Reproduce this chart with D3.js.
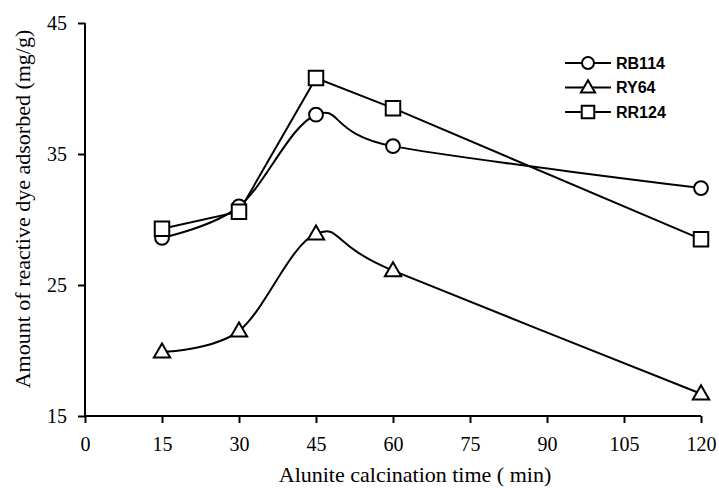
<!DOCTYPE html>
<html>
<head>
<meta charset="utf-8">
<script src="https://cdn.jsdelivr.net/npm/d3@7"></script>
<style>
  body { margin: 0; background: #fff; }
  .axis text { font-family: "Liberation Serif", "Times New Roman", serif; font-size: 20px; fill: #000; }
  .axis path, .axis line { stroke: #000; stroke-width: 2; }
</style>
</head>
<body>
<div id="chart"></div>
<script>
// Data
const times = [15, 30, 45, 60, 120];
const rb114 = [28.6, 31.0, 38.0, 35.6, 32.4];
const ry64 = [19.9, 21.5, 28.9, 26.1, 16.7];
const rr124 = [29.3, 30.6, 40.8, 38.5, 28.5];
const xTicks = [0, 15, 30, 45, 60, 75, 90, 105, 120];
const yTicks = [15, 25, 35, 45];

const series = [
    { name: 'RB114', values: rb114, symbol: d3.symbolCircle, size: 150, smooth: true },
    { name: 'RY64', values: ry64, symbol: d3.symbolTriangle, size: 115, smooth: true },
    { name: 'RR124', values: rr124, symbol: d3.symbolSquare, size: 210, smooth: false }
];

const W = 719, H = 494;
const margin = { top: 23, right: 18, bottom: 78, left: 85 };
const width = W - margin.left - margin.right;
const height = H - margin.top - margin.bottom;

const svg = d3.select('#chart').append('svg')
    .attr('width', W).attr('height', H);
const g = svg.append('g')
    .attr('transform', `translate(${margin.left},${margin.top})`);

const x = d3.scaleLinear().domain([0, 120]).range([0, width]);
const y = d3.scaleLinear().domain([15, 45]).range([height, 0]);

// Axes
g.append('g')
    .attr('class', 'axis')
    .attr('transform', `translate(0,${height})`)
    .call(d3.axisBottom(x).tickValues(xTicks).tickSize(7).tickSizeOuter(0).tickPadding(14))
    .call(a => a.select('.domain').attr('d', `M0,0H${width}`));

g.append('g')
    .attr('class', 'axis')
    .call(d3.axisLeft(y).tickValues(yTicks).tickSize(7).tickSizeOuter(0).tickPadding(11))
    .call(a => a.select('.domain').attr('d', `M0,${height}V0`));

// Axis titles
g.append('text')
    .attr('x', 415 - margin.left)
    .attr('y', height + 66)
    .attr('text-anchor', 'middle')
    .style('font-family', '"Liberation Serif", "Times New Roman", serif')
    .style('font-size', '22px')
    .text('Alunite calcination time ( min)');

g.append('text')
    .attr('transform', `translate(${-55},${186}) rotate(-90)`)
    .attr('text-anchor', 'middle')
    .style('font-family', '"Liberation Serif", "Times New Roman", serif')
    .style('font-size', '22px')
    .text('Amount of reactive dye adsorbed (mg/g)');

// Lines
series.forEach(s => {
    const pts = times.map((t, i) => [t, s.values[i]]);
    const line = d3.line()
        .x(d => x(d[0]))
        .y(d => y(d[1]))
        .curve(s.smooth ? d3.curveCatmullRom.alpha(0) : d3.curveLinear);
    g.append('path')
        .datum(pts)
        .attr('d', line)
        .attr('fill', 'none')
        .attr('stroke', '#000')
        .attr('stroke-width', 2);
});

// Markers
series.forEach(s => {
    const sym = d3.symbol().type(s.symbol).size(s.size);
    g.selectAll(null)
        .data(times.map((t, i) => [t, s.values[i]]))
        .enter()
        .append('path')
        .attr('d', sym)
        .attr('transform', d => `translate(${x(d[0])},${y(d[1]) + (s.symbol === d3.symbolTriangle ? 1 : 0)})`)
        .attr('fill', '#fff')
        .attr('stroke', '#000')
        .attr('stroke-width', 2);
});

// Legend
const legend = g.append('g').attr('transform', `translate(${565 - margin.left},${63 - margin.top})`);
series.forEach((s, i) => {
    const row = legend.append('g').attr('transform', `translate(0,${i * 24.5})`);
    row.append('line')
        .attr('x1', 0).attr('x2', 46)
        .attr('stroke', '#000').attr('stroke-width', 2);
    row.append('path')
        .attr('d', d3.symbol().type(s.symbol).size(s.size * 0.75)())
        .attr('transform', `translate(23,${s.symbol === d3.symbolTriangle ? 1 : 0})`)
        .attr('fill', '#fff').attr('stroke', '#000').attr('stroke-width', 2);
    row.append('text')
        .attr('x', 51)
        .attr('dy', '0.36em')
        .style('font-family', '"Liberation Sans", Arial, sans-serif')
        .style('font-size', '16px')
        .style('font-weight', 'bold')
        .text(s.name);
});
</script>
</body>
</html>
